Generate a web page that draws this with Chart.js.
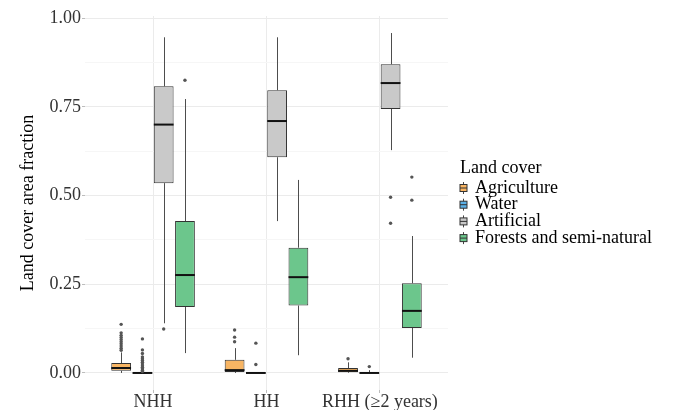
<!DOCTYPE html>
<html>
<head>
<meta charset="utf-8">
<script src="https://cdn.jsdelivr.net/npm/chart.js@4.4.1/dist/chart.umd.min.js"></script>
<style>
html,body{margin:0;padding:0;background:#fff;}
#wrap{width:673px;height:410px;}
</style>
</head>
<body>
<div id="wrap"><canvas id="graph1" width="673" height="410"></canvas></div>
<script>
var categories = ['NHH', 'HH', 'RHH (≥2 years)'];
var covers = ['Agriculture', 'Water', 'Artificial', 'Forests and semi-natural'];
var fills = ['#F8B563', '#5BB0E6', '#C9C9C9', '#6CC68C'];
var yTicks = [0, 0.25, 0.5, 0.75, 1];

// rows = land cover, columns = category
var lowWhisker = [
  [0, 0, 0],
  [0, 0, 0],
  [0.14, 0.428, 0.628],
  [0.056, 0.05, 0.043]
];
var q1 = [
  [0.006, 0.003, 0.002],
  [0, 0, 0],
  [0.535, 0.608, 0.744],
  [0.186, 0.19, 0.127]
];
var median = [
  [0.014, 0.008, 0.006],
  [0, 0, 0],
  [0.70, 0.71, 0.817],
  [0.276, 0.27, 0.175]
];
var q3 = [
  [0.028, 0.037, 0.014],
  [0.001, 0.001, 0.001],
  [0.808, 0.797, 0.870],
  [0.428, 0.353, 0.253]
];
var highWhisker = [
  [0.058, 0.07, 0.03],
  [0.002, 0.002, 0.008],
  [0.946, 0.946, 0.958],
  [0.772, 0.544, 0.386]
];
var outliers = [
  [[0.064, 0.07, 0.076, 0.082, 0.088, 0.094, 0.10, 0.106, 0.113, 0.137], [0.088, 0.101, 0.121], [0.04]],
  [[0.004, 0.008, 0.012, 0.016, 0.02, 0.025, 0.03, 0.035, 0.04, 0.045, 0.055, 0.065, 0.096], [0.024, 0.084], [0.018]],
  [[0.124], [], [0.495, 0.422]],
  [[0.825], [], [0.552, 0.487]]
];

Chart.defaults.font.family = '"Liberation Serif", "Times New Roman", serif';
Chart.defaults.font.size = 18;

var datasets = covers.map(function (name, i) {
  return {
    label: name,
    data: categories.map(function (c, k) { return { x: k + 1, y: [q1[i][k], q3[i][k]] }; }),
    backgroundColor: fills[i],
    borderColor: '#333333',
    borderWidth: 1,
    borderSkipped: false,
    categoryPercentage: 0.75,
    barPercentage: 0.93
  };
});

var boxExtras = {
  id: 'boxExtras',
  beforeDatasetsDraw: function (chart) {
    var ctx = chart.ctx, y = chart.scales.y;
    ctx.save();
    ctx.strokeStyle = '#4d4d4d';
    ctx.lineWidth = 1;
    chart.data.datasets.forEach(function (ds, i) {
      chart.getDatasetMeta(i).data.forEach(function (bar, k) {
        var x = Math.round(bar.x) + 0.5;
        ctx.beginPath();
        ctx.moveTo(x, y.getPixelForValue(q3[i][k]));
        ctx.lineTo(x, y.getPixelForValue(highWhisker[i][k]));
        ctx.moveTo(x, y.getPixelForValue(q1[i][k]));
        ctx.lineTo(x, y.getPixelForValue(lowWhisker[i][k]));
        ctx.stroke();
      });
    });
    ctx.restore();
  },
  afterDatasetsDraw: function (chart) {
    var ctx = chart.ctx, y = chart.scales.y;
    ctx.save();
    chart.data.datasets.forEach(function (ds, i) {
      chart.getDatasetMeta(i).data.forEach(function (bar, k) {
        var half = bar.width / 2;
        var my = y.getPixelForValue(median[i][k]);
        ctx.strokeStyle = '#111';
        ctx.lineWidth = 2;
        ctx.beginPath();
        ctx.moveTo(bar.x - half, my);
        ctx.lineTo(bar.x + half, my);
        ctx.stroke();
        ctx.fillStyle = '#555';
        outliers[i][k].forEach(function (v) {
          ctx.beginPath();
          ctx.arc(bar.x, y.getPixelForValue(v), 1.7, 0, Math.PI * 2);
          ctx.fill();
        });
      });
    });
    ctx.restore();
  }
};

var boxLegend = {
  id: 'boxLegend',
  afterDraw: function (chart) {
    var ctx = chart.ctx;
    ctx.save();
    ctx.font = '18px "Liberation Serif", serif';
    ctx.textBaseline = 'middle';
    ctx.fillStyle = '#000';
    ctx.fillText('Land cover', 460, 168);
    covers.forEach(function (name, i) {
      var cy = 188 + i * 16.7, cx = 463.5;
      ctx.strokeStyle = '#444';
      ctx.lineWidth = 1;
      ctx.beginPath();
      ctx.moveTo(cx, cy - 6);
      ctx.lineTo(cx, cy + 6);
      ctx.stroke();
      ctx.fillStyle = fills[i];
      ctx.fillRect(cx - 3.5, cy - 3.5, 7, 7);
      ctx.strokeStyle = '#333';
      ctx.strokeRect(cx - 3.5, cy - 3.5, 7, 7);
      ctx.beginPath();
      ctx.moveTo(cx - 3.5, cy);
      ctx.lineTo(cx + 3.5, cy);
      ctx.stroke();
      ctx.fillStyle = '#000';
      ctx.fillText(name, 475, cy);
    });
    ctx.restore();
  }
};

var graph1 = document.getElementById('graph1').getContext('2d');
var chart = new Chart(graph1, {
  type: 'bar',
  data: { datasets: datasets },
  options: {
    responsive: false,
    animation: false,
    devicePixelRatio: 1,
    layout: { padding: { top: 16, right: 225, left: 0, bottom: 0 } },
    plugins: {
      legend: { display: false },
      tooltip: { enabled: false }
    },
    scales: {
      x: {
        type: 'linear',
        min: 0.4,
        max: 3.6,
        offset: false,
        afterBuildTicks: function (scale) {
          scale.ticks = categories.map(function (c, k) { return { value: k + 1 }; });
        },
        afterFit: function (scale) { scale.height = 20; },
        ticks: {
          color: '#333',
          padding: -2,
          maxRotation: 0,
          autoSkip: false,
          callback: function (v) { return categories[v - 1]; }
        },
        grid: { offset: false, color: '#EBEBEB', tickLength: 3, tickColor: '#BDBDBD' },
        border: { display: false }
      },
      y: {
        min: -0.048,
        max: 1.006,
        afterBuildTicks: function (scale) {
          var t = [];
          yTicks.forEach(function (v, j) {
            t.push({ value: v, major: true });
            if (j < yTicks.length - 1) t.push({ value: (v + yTicks[j + 1]) / 2, major: false });
          });
          scale.ticks = t;
        },
        afterFit: function (scale) { scale.width = 85; },
        title: {
          display: true,
          text: 'Land cover area fraction',
          color: '#000',
          padding: { top: 17, bottom: 0 }
        },
        ticks: {
          color: '#333',
          padding: 1,
          autoSkip: false,
          callback: function (v) { return yTicks.indexOf(v) >= 0 ? v.toFixed(2) : ''; }
        },
        grid: {
          color: function (c) { return c.tick && yTicks.indexOf(c.tick.value) >= 0 ? '#EBEBEB' : '#F6F6F6'; },
          tickLength: 3,
          tickColor: function (c) { return c.tick && yTicks.indexOf(c.tick.value) >= 0 ? '#BDBDBD' : 'rgba(0,0,0,0)'; }
        },
        border: { display: false }
      }
    }
  },
  plugins: [boxExtras, boxLegend]
});
</script>
</body>
</html>
